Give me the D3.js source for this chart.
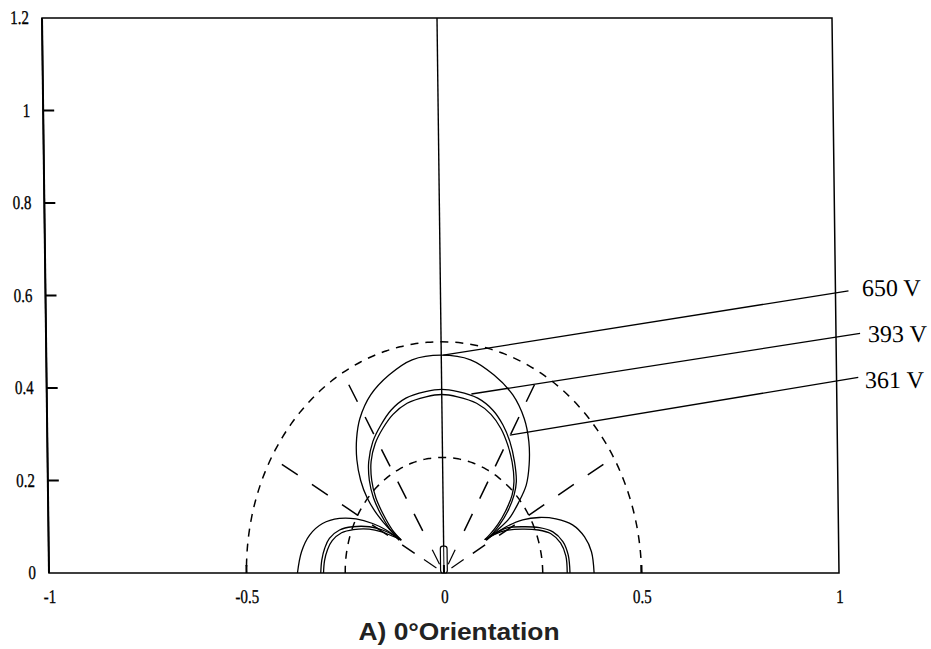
<!DOCTYPE html>
<html><head><meta charset="utf-8">
<script src="https://cdn.jsdelivr.net/npm/d3@7"></script>
<style>body{margin:0;background:#fff;} svg{display:block;background:#fff}</style>
</head><body><svg id="chart" width="931" height="649"></svg>
<script>
// ---- data ----
const xTicks = [-1, -0.5, 0, 0.5, 1];
const xTickLabels = ["-1", "-0.5", "0", "0.5", "1"];
const yTicks = [0, 0.2, 0.4, 0.6, 0.8, 1, 1.2];
const yTickLabels = ["0", "0.2", "0.4", "0.6", "0.8", "1", "1.2"];

const refRadii = [0.25, 0.5];          // dashed reference circles
const rayAngles = [30, 60, 120, 150];  // dashed radial lines (deg)
const rayRange = [0.085, 0.47];
const arrowAngles = [30, 60, 120, 150];
const arrowRange = [0.022, 0.058];
const electrodeWidth = 0.017, electrodeHeight = 0.058;

// 650 V contour
const lobe650 = [[-0.107,0.071],[-0.137,0.095],[-0.166,0.125],[-0.192,0.162],[-0.208,0.200],[-0.217,0.245],[-0.217,0.290],[-0.208,0.334],[-0.180,0.385],[-0.133,0.428],[-0.074,0.461],[0,0.471],[0.074,0.461],[0.133,0.428],[0.180,0.385],[0.208,0.334],[0.219,0.284],[0.219,0.234],[0.211,0.190],[0.192,0.154],[0.167,0.118],[0.137,0.093],[0.112,0.075]];
const side650L = [[-0.371,0],[-0.360,0.046],[-0.339,0.082],[-0.306,0.107],[-0.263,0.118],[-0.221,0.117],[-0.179,0.107],[-0.145,0.093],[-0.120,0.078],[-0.107,0.071]];
const side650R = [[0.112,0.075],[0.159,0.100],[0.201,0.115],[0.243,0.120],[0.285,0.117],[0.327,0.104],[0.357,0.078],[0.374,0.046],[0.380,0]];
// 393 V contour
const lobe393 = [[-0.112,0.071],[-0.135,0.094],[-0.158,0.127],[-0.176,0.162],[-0.186,0.200],[-0.187,0.241],[-0.176,0.284],[-0.155,0.320],[-0.129,0.352],[-0.091,0.378],[-0.041,0.392],[0,0.397],[0.041,0.392],[0.091,0.378],[0.129,0.352],[0.154,0.320],[0.171,0.284],[0.182,0.241],[0.186,0.197],[0.180,0.169],[0.163,0.133],[0.142,0.104],[0.121,0.082],[0.108,0.071]];
const side393L = [[-0.312,0],[-0.309,0.028],[-0.301,0.054],[-0.289,0.075],[-0.263,0.093],[-0.230,0.100],[-0.187,0.100],[-0.154,0.093],[-0.128,0.082],[-0.112,0.071]];
const side393R = [[0.108,0.071],[0.130,0.085],[0.159,0.097],[0.201,0.100],[0.243,0.098],[0.277,0.089],[0.302,0.068],[0.315,0.039],[0.319,0]];
// 361 V contour
const lobe361 = [[-0.108,0.072],[-0.130,0.094],[-0.152,0.127],[-0.170,0.162],[-0.180,0.200],[-0.181,0.241],[-0.170,0.280],[-0.150,0.313],[-0.124,0.343],[-0.088,0.367],[-0.040,0.381],[0,0.386],[0.040,0.381],[0.088,0.367],[0.124,0.343],[0.149,0.312],[0.165,0.278],[0.176,0.240],[0.180,0.197],[0.175,0.169],[0.158,0.134],[0.138,0.105],[0.117,0.083],[0.104,0.072]];
const side361L = [[-0.305,0],[-0.302,0.027],[-0.294,0.051],[-0.282,0.070],[-0.258,0.087],[-0.228,0.094],[-0.188,0.095],[-0.156,0.089],[-0.130,0.080],[-0.108,0.072]];
const side361R = [[0.104,0.072],[0.128,0.083],[0.158,0.092],[0.199,0.095],[0.240,0.093],[0.272,0.085],[0.296,0.065],[0.309,0.037],[0.312,0]];

const contourLabels = ["650 V", "393 V", "361 V"];
const leaderFrom = [[0.005,0.471],[0.075,0.387],[0.171,0.298]];
const leaderTo = [[1.033,0.610],[1.061,0.518],[1.055,0.423]];
const labelAt = [[1.067,0.599],[1.081,0.500],[1.072,0.399]];
const titleText = "A) 0°Orientation";

// ---- layout ----
const svg = d3.select("#chart");
const x = d3.scaleLinear().domain([-1, 1]).range([49, 839]);
const y = d3.scaleLinear().domain([0, 1.2]).range([573, 18]);
const skewT = 7 / 555;
const g = svg.append("g")
  .attr("transform", `translate(0,573) skewX(${Math.atan(skewT) * 180 / Math.PI}) translate(0,-573)`);

const line = d3.line().x(d => x(d[0])).y(d => y(d[1]));
const smooth = d3.line().x(d => x(d[0])).y(d => y(d[1])).curve(d3.curveCatmullRom.alpha(0.5));

// frame
g.append("rect")
  .attr("x", x(-1)).attr("y", y(1.2))
  .attr("width", x(1) - x(-1)).attr("height", y(0) - y(1.2))
  .attr("fill", "none").attr("stroke", "#000").attr("stroke-width", 1.5);
g.append("line").attr("x1", x(-1)).attr("x2", x(-1)).attr("y1", y(0)).attr("y2", y(1.2))
  .attr("stroke", "#000").attr("stroke-width", 2);

// axes (labels through d3 axes)
const fontTick = "'Liberation Serif', 'Times New Roman', serif";
const yAxis = g.append("g").attr("transform", `translate(${x(-1)},0)`)
  .call(d3.axisLeft(y).tickValues(yTicks).tickSize(0).tickPadding(13)
    .tickFormat((d, i) => yTickLabels[i]));
const xAxis = g.append("g").attr("transform", `translate(0,${y(0)})`)
  .call(d3.axisBottom(x).tickValues(xTicks).tickSize(0)
    .tickFormat((d, i) => xTickLabels[i]));
[yAxis, xAxis].forEach(a => {
  a.select(".domain").remove();
  a.selectAll(".tick line").remove();
  a.selectAll(".tick text").attr("fill", "#000").attr("stroke", "#000").attr("stroke-width", 0.25)
    .style("font-family", fontTick).style("font-size", "15px");
});
yAxis.selectAll(".tick text").attr("transform", "scale(1,1.3)").attr("dy", "0.3em");
xAxis.selectAll(".tick text").attr("transform", "scale(1,1.3)").attr("y", 24 / 1.3).attr("dy", "0.3em");

// dashed reference circles
refRadii.forEach(r => {
  const pts = d3.range(0, 181, 2).map(a => [r * Math.cos(a * Math.PI / 180), r * Math.sin(a * Math.PI / 180)]);
  g.append("path").attr("d", smooth(pts)).attr("fill", "none")
    .attr("stroke", "#000").attr("stroke-width", 1.5).attr("stroke-dasharray", "8,7");
});

// dashed radial lines
rayAngles.forEach(a => {
  const c = Math.cos(a * Math.PI / 180), s = Math.sin(a * Math.PI / 180);
  g.append("path").attr("d", line([[rayRange[1] * c, rayRange[1] * s], [rayRange[0] * c, rayRange[0] * s]]))
    .attr("fill", "none").attr("stroke", "#000").attr("stroke-width", 1.5).attr("stroke-dasharray", "19,17");
});
// short field arrows near the electrode
arrowAngles.forEach(a => {
  const c = Math.cos(a * Math.PI / 180), s = Math.sin(a * Math.PI / 180);
  g.append("path").attr("d", line([[arrowRange[1] * c, arrowRange[1] * s], [arrowRange[0] * c, arrowRange[0] * s]]))
    .attr("fill", "none").attr("stroke", "#000").attr("stroke-width", 1.2);
});

// vertical axis line at x = 0
g.append("path").attr("d", line([[0, 0], [0, 1.2]])).attr("stroke", "#000").attr("stroke-width", 1.4);

// electrode
g.append("rect")
  .attr("x", x(-electrodeWidth / 2)).attr("y", y(electrodeHeight))
  .attr("width", x(electrodeWidth / 2) - x(-electrodeWidth / 2))
  .attr("height", y(0) - y(electrodeHeight))
  .attr("rx", 2.5).attr("fill", "#fff").attr("stroke", "#000").attr("stroke-width", 1.2);
g.append("path").attr("d", line([[0, 0], [0, electrodeHeight]])).attr("stroke", "#000").attr("stroke-width", 1);

// contours
[lobe650, side650L, side650R, lobe393, side393L, side393R, lobe361, side361L, side361R].forEach(seg => {
  g.append("path").attr("d", smooth(seg)).attr("fill", "none")
    .attr("stroke", "#000").attr("stroke-width", 1.3);
});

// leader lines and labels
contourLabels.forEach((lab, i) => {
  g.append("path").attr("d", line([leaderFrom[i], leaderTo[i]]))
    .attr("stroke", "#000").attr("stroke-width", 1.3).attr("fill", "none");
  g.append("text").attr("x", x(labelAt[i][0])).attr("y", y(labelAt[i][1]))
    .style("font-family", fontTick).style("font-size", "24px").attr("fill", "#000")
    .text(lab);
});

// inward tick marks (drawn last)
const tickG = g.append("g").attr("class", "inward-ticks");
yTicks.slice(1, -1).forEach(v => {
  tickG.append("path").attr("d", `M${x(-1)},${y(v)}H${x(-1) + 11}`)
    .attr("stroke", "#000").attr("stroke-width", 2).attr("fill", "none");
});
xTicks.slice(1, -1).forEach(v => {
  tickG.append("path").attr("d", `M${x(v)},${y(0)}V${y(0) - 8}`)
    .attr("stroke", "#000").attr("stroke-width", 2).attr("fill", "none");
});

// title
svg.append("text").attr("x", 459).attr("y", 640).attr("text-anchor", "middle")
  .attr("textLength", 201).attr("lengthAdjust", "spacingAndGlyphs")
  .style("font-family", "'Liberation Sans', Arial, sans-serif").style("font-weight", "bold")
  .style("font-size", "24px").attr("fill", "#222").text(titleText);
</script></body></html>
